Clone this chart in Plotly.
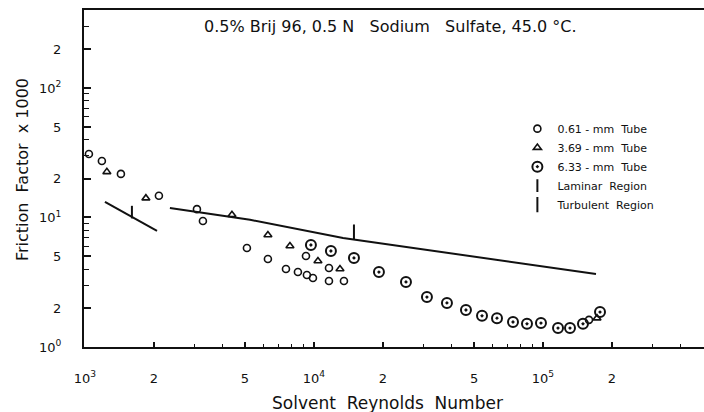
import plotly.graph_objects as go

# ---- data ----
re_061 = [1041, 1186, 1436, 2104, 3084, 3275, 5097, 6295, 7548, 8511, 9316, 9900, 9230, 11630, 11630, 13520, 158800]
f_061 = [30.9, 27.3, 21.7, 14.7, 11.6, 9.4, 5.81, 4.78, 4.0, 3.79, 3.60, 3.41, 5.04, 4.07, 3.23, 3.23, 1.62]

re_369 = [1247, 1846, 4385, 6295, 7855, 10410, 12990, 172100]
f_369 = [22.5, 14.1, 10.5, 7.32, 6.03, 4.61, 4.0, 1.67]

re_633 = [9700, 11860, 14950, 19220, 25220, 31140, 38080, 46100, 54170, 62980, 73970, 85140, 98000, 116300, 131200, 149500, 177400]
f_633 = [6.13, 5.51, 4.87, 3.79, 3.18, 2.43, 2.19, 1.93, 1.74, 1.67, 1.56, 1.51, 1.53, 1.40, 1.40, 1.51, 1.86]

lam_re = [1223, 2064]
lam_f = [13.2, 7.87]
lam_mark_re = [1604]
lam_mark_f = [11.0]

turb_re = [2350, 5260, 13400, 170400]
turb_f = [11.85, 9.6, 6.95, 3.66]
turb_mark_re = [14950]
turb_mark_f = [7.7]

x_tickvals = [1e3, 2e3, 5e3, 1e4, 2e4, 5e4, 1e5, 2e5]
x_ticktext = ["10<sup>3</sup>", "2", "5", "10<sup>4</sup>", "2", "5", "10<sup>5</sup>", "2"]
y_tickvals = [1, 2, 5, 10, 20, 50, 100, 200]
y_ticktext = ["10<sup>0</sup>", "2", "5", "10<sup>1</sup>", "2", "5", "10<sup>2</sup>", "2"]

x_minor = [m * 10 ** k for k in (3, 4, 5) for m in (3, 4, 6, 7, 8, 9)]
y_minor = [m * 10 ** k for k in (0, 1, 2) for m in (3, 4, 6, 7, 8, 9)]

title_text = "0.5% Brij 96, 0.5 N   Sodium   Sulfate, 45.0 °C."
x_title = "Solvent  Reynolds  Number"
y_title = "Friction  Factor  x 1000"

FONT = "DejaVu Sans"
BLACK = "#111111"

fig = go.Figure()

fig.add_trace(go.Scatter(x=re_061, y=f_061, mode="markers", name="0.61 - mm  Tube",
                         marker=dict(symbol="circle-open", size=7, color=BLACK, line=dict(width=1.6, color=BLACK))))
fig.add_trace(go.Scatter(x=re_369, y=f_369, mode="markers", name="3.69 - mm  Tube",
                         marker=dict(symbol="triangle-up-open", size=7, color=BLACK, line=dict(width=1.6, color=BLACK))))
fig.add_trace(go.Scatter(x=re_633, y=f_633, mode="markers", name="6.33 - mm  Tube",
                         marker=dict(symbol="circle-open-dot", size=10, color=BLACK, line=dict(width=2, color=BLACK))))

fig.add_trace(go.Scatter(x=lam_re, y=lam_f, mode="lines", showlegend=False,
                         line=dict(color=BLACK, width=2)))
fig.add_trace(go.Scatter(x=turb_re, y=turb_f, mode="lines", showlegend=False,
                         line=dict(color=BLACK, width=2)))
fig.add_trace(go.Scatter(x=lam_mark_re, y=lam_mark_f, mode="markers", name="Laminar  Region",
                         marker=dict(symbol="line-ns-open", size=9, color=BLACK, line=dict(width=2, color=BLACK))))
fig.add_trace(go.Scatter(x=turb_mark_re, y=turb_mark_f, mode="markers", name="Turbulent  Region",
                         marker=dict(symbol="line-ns-open", size=11, color=BLACK, line=dict(width=2, color=BLACK))))

fig.update_layout(
    width=704, height=412,
    margin=dict(l=84, r=0, t=10, b=65, autoexpand=False),
    paper_bgcolor="white", plot_bgcolor="white",
    font=dict(family=FONT, size=13, color=BLACK),
    showlegend=True,
    legend=dict(x=0.699, y=0.691, xanchor="left", yanchor="top",
                font=dict(family=FONT, size=11, color=BLACK),
                bgcolor="rgba(0,0,0,0)", tracegroupgap=0, itemwidth=30),
    annotations=[
        dict(text=title_text, xref="paper", yref="paper", x=0.495, y=0.95,
             xanchor="center", yanchor="middle", showarrow=False,
             font=dict(family=FONT, size=16, color=BLACK)),
        dict(text=x_title, xref="paper", yref="paper", x=0.49, y=-0.165,
             xanchor="center", yanchor="middle", showarrow=False,
             font=dict(family=FONT, size=17, color=BLACK)),
        dict(text=y_title, xref="paper", yref="paper", x=-0.1, y=0.525,
             xanchor="center", yanchor="middle", showarrow=False, textangle=-90,
             font=dict(family=FONT, size=16, color=BLACK)),
    ],
)

fig.update_xaxes(
    type="log", range=[2.996, 5.703], automargin=False,
    showline=True, linecolor=BLACK, linewidth=2, mirror=True,
    showgrid=False, zeroline=False,
    ticks="inside", ticklen=5, tickwidth=1.5, tickcolor=BLACK,
    tickmode="array", tickvals=x_tickvals, ticktext=x_ticktext,
    ticklabelstandoff=18,
    minor=dict(ticks="inside", ticklen=3, tickwidth=1.2, tickcolor=BLACK, tickmode="array", tickvals=x_minor),
)
fig.update_yaxes(
    type="log", range=[0, 2.602], automargin=False,
    showline=True, linecolor=BLACK, linewidth=2, mirror=False,
    showgrid=False, zeroline=False,
    ticks="inside", ticklen=7, tickwidth=1.5, tickcolor=BLACK,
    tickmode="array", tickvals=y_tickvals, ticktext=y_ticktext,
    ticklabelstandoff=18,
    minor=dict(ticks="inside", ticklen=5, tickwidth=1.2, tickcolor=BLACK, tickmode="array", tickvals=y_minor),
)

fig.write_html("out.html", config={"displayModeBar": False},
               post_script="document.body.style.margin='0';document.body.style.overflow='hidden';")
